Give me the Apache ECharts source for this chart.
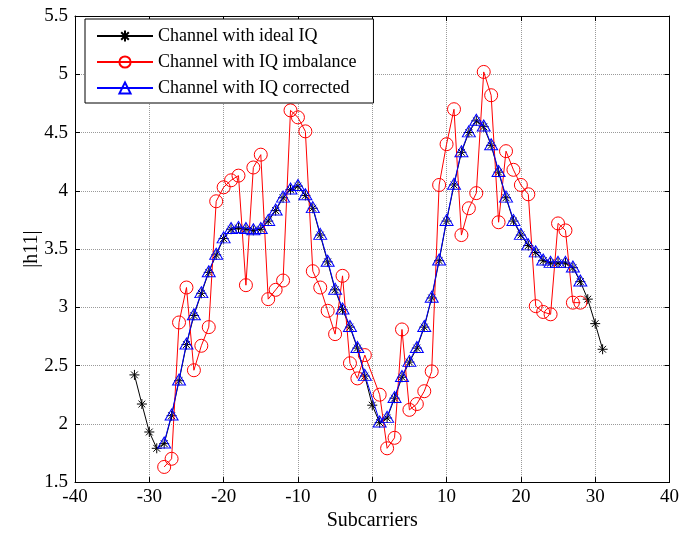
<!DOCTYPE html>
<html>
<head>
<meta charset="utf-8">
<script src="https://cdn.jsdelivr.net/npm/echarts@6/dist/echarts.min.js"></script>
<style>
  body { margin: 0; background: #ffffff; }
  #chart { width: 682px; height: 536px; }
</style>
</head>
<body>
<div id="chart"></div>
<script>
// subcarrier indices
const idealX = [-32, -31, -30, -29, -28, -27, -26, -25, -24, -23, -22, -21, -20, -19, -18, -17, -16, -15, -14, -13, -12, -11, -10, -9, -8, -7, -6, -5, -4, -3, -2, -1,
  0, 1, 2, 3, 4, 5, 6, 7, 8, 9, 10, 11, 12, 13, 14, 15, 16, 17, 18, 19, 20, 21, 22, 23, 24, 25, 26, 27, 28, 29, 30, 31];
const dataX = [-28, -27, -26, -25, -24, -23, -22, -21, -20, -19, -18, -17, -16, -15, -14, -13, -12, -11, -10, -9, -8, -7, -6, -5, -4, -3, -2, -1,
  1, 2, 3, 4, 5, 6, 7, 8, 9, 10, 11, 12, 13, 14, 15, 16, 17, 18, 19, 20, 21, 22, 23, 24, 25, 26, 27, 28];

// |h11| values
const idealIQ = [2.42, 2.17, 1.93, 1.79, 1.83, 2.07, 2.37, 2.68, 2.93, 3.12, 3.30, 3.45, 3.59, 3.67, 3.68, 3.67, 3.66, 3.67, 3.74, 3.83, 3.94, 4.01, 4.04, 3.96, 3.85, 3.62, 3.39, 3.15, 2.98, 2.83, 2.65, 2.41,
  2.16, 2.01, 2.05, 2.22, 2.40, 2.53, 2.65, 2.83, 3.08, 3.40, 3.74, 4.05, 4.33, 4.50, 4.60, 4.55, 4.39, 4.16, 3.94, 3.74, 3.62, 3.53, 3.47, 3.40, 3.38, 3.38, 3.38, 3.34, 3.22, 3.07, 2.86, 2.64];
const imbalanceIQ = [1.63, 1.70, 2.87, 3.17, 2.46, 2.67, 2.83, 3.91, 4.03, 4.09, 4.13, 3.19, 4.20, 4.31, 3.07, 3.15, 3.23, 4.69, 4.63, 4.51, 3.31, 3.17, 2.97, 2.77, 3.27, 2.52, 2.39, 2.59,
  2.25, 1.79, 1.88, 2.81, 2.12, 2.17, 2.28, 2.45, 4.05, 4.40, 4.70, 3.62, 3.85, 3.98, 5.02, 4.82, 3.73, 4.34, 4.18, 4.05, 3.97, 3.01, 2.96, 2.94, 3.72, 3.66, 3.04, 3.04];
const correctedIQ = [1.84, 2.08, 2.38, 2.69, 2.94, 3.13, 3.31, 3.46, 3.60, 3.68, 3.69, 3.68, 3.67, 3.68, 3.75, 3.84, 3.95, 4.02, 4.05, 3.97, 3.86, 3.63, 3.40, 3.16, 2.99, 2.84, 2.66, 2.42,
  2.02, 2.06, 2.23, 2.41, 2.54, 2.66, 2.84, 3.09, 3.41, 3.75, 4.06, 4.34, 4.51, 4.61, 4.56, 4.40, 4.17, 3.95, 3.75, 3.63, 3.54, 3.48, 3.41, 3.39, 3.39, 3.39, 3.35, 3.23];

const seriesNames = ["Channel with ideal IQ", "Channel with IQ imbalance", "Channel with IQ corrected"];

const font = "'Liberation Serif', 'Times New Roman', serif";
const asterisk = "path://M5,0L5,10M0,5L10,5M1.6,1.6L8.4,8.4M1.6,8.4L8.4,1.6";
const triangle = "path://M5,0L10,9L0,9Z";

function pairs(xs, ys) {
  return xs.map((x, i) => [x, ys[i]]);
}

const gridLine = { show: true, lineStyle: { color: "#9a9a9a", type: "dotted", width: 1 } };
const frameLine = { show: true, onZero: false, lineStyle: { color: "#000", width: 1 } };

let myChart = echarts.init(document.getElementById("chart"));
myChart.setOption({
  animation: false,
  backgroundColor: "#ffffff",
  textStyle: { fontFamily: font },
  grid: { left: 75, right: 10, top: 16, bottom: 51 },
  legend: {
    orient: "vertical",
    left: 85,
    top: 19,
    padding: [8, 17, 6, 11],
    backgroundColor: "#ffffff",
    borderColor: "#000",
    borderWidth: 1,
    itemWidth: 56,
    itemHeight: 14,
    itemGap: 8,
    textStyle: { fontFamily: font, fontSize: 18, color: "#000", lineHeight: 18 },
    data: seriesNames
  },
  xAxis: [
    {
      type: "value",
      min: -40,
      max: 40,
      interval: 10,
      name: "Subcarriers",
      nameLocation: "middle",
      nameGap: 25,
      nameTextStyle: { fontFamily: font, fontSize: 20, color: "#000" },
      axisLine: frameLine,
      axisTick: { show: true, inside: true, length: 5, lineStyle: { color: "#000" } },
      axisLabel: { fontFamily: font, fontSize: 19, color: "#000", margin: 5 },
      splitLine: gridLine
    },
    {
      type: "value",
      position: "top",
      min: -40,
      max: 40,
      interval: 10,
      axisLine: frameLine,
      axisTick: { show: true, inside: true, length: 5, lineStyle: { color: "#000" } },
      axisLabel: { show: false },
      splitLine: { show: false }
    }
  ],
  yAxis: [
    {
      type: "value",
      min: 1.5,
      max: 5.5,
      interval: 0.5,
      name: "|h11|",
      nameLocation: "middle",
      nameGap: 33,
      nameMoveOverlap: false,
      nameTextStyle: { fontFamily: font, fontSize: 20, color: "#000" },
      axisLine: frameLine,
      axisTick: { show: true, inside: true, length: 5, lineStyle: { color: "#000" } },
      axisLabel: { fontFamily: font, fontSize: 19, color: "#000", margin: 7 },
      splitLine: gridLine
    },
    {
      type: "value",
      position: "right",
      min: 1.5,
      max: 5.5,
      interval: 0.5,
      axisLine: frameLine,
      axisTick: { show: true, inside: true, length: 5, lineStyle: { color: "#000" } },
      axisLabel: { show: false },
      splitLine: { show: false }
    }
  ],
  series: [
    {
      name: seriesNames[0],
      type: "line",
      data: pairs(idealX, idealIQ),
      symbol: asterisk,
      symbolSize: 10,
      itemStyle: { color: "#000", borderColor: "#000", borderWidth: 1 },
      lineStyle: { color: "#000", width: 1 },
      z: 2
    },
    {
      name: seriesNames[1],
      type: "line",
      data: pairs(dataX, imbalanceIQ),
      symbol: "circle",
      symbolSize: 13,
      itemStyle: { color: "rgba(0,0,0,0)", borderColor: "#ff0000", borderWidth: 1 },
      lineStyle: { color: "#ff0000", width: 1 },
      z: 3
    },
    {
      name: seriesNames[2],
      type: "line",
      data: pairs(dataX, correctedIQ),
      symbol: triangle,
      symbolSize: [13, 11],
      itemStyle: { color: "rgba(0,0,0,0)", borderColor: "#0000ff", borderWidth: 1 },
      lineStyle: { color: "#0000ff", width: 1 },
      z: 4
    }
  ]
});
</script>
</body>
</html>
